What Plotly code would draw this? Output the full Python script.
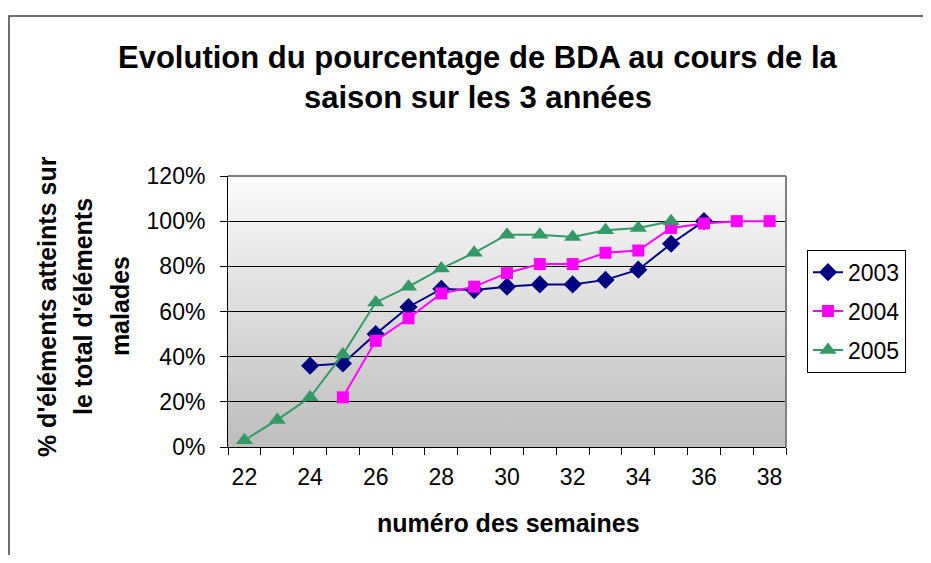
import base64
import plotly.graph_objects as go

semaines = list(range(22, 39))

pct_2003 = [None, None, 0.36, 0.37, 0.50, 0.62, 0.70, 0.695, 0.71, 0.72, 0.72, 0.74, 0.785, 0.90, 1.00, None, None]
pct_2004 = [None, None, None, 0.22, 0.47, 0.57, 0.68, 0.71, 0.77, 0.81, 0.81, 0.86, 0.87, 0.97, 0.99, 1.00, 1.00]
pct_2005 = [0.03, 0.12, 0.22, 0.41, 0.64, 0.71, 0.79, 0.86, 0.94, 0.94, 0.93, 0.96, 0.97, 1.00, None, None, None]

y_ticks = [0, 0.2, 0.4, 0.6, 0.8, 1.0, 1.2]
x_labels = list(range(22, 39, 2))

font = "Liberation Sans, Arial, sans-serif"

# fond dégradé de la zone de tracé (blanc en haut, gris en bas)
svg = ('<svg xmlns="http://www.w3.org/2000/svg" width="10" height="100" preserveAspectRatio="none">'
       '<defs><linearGradient id="g" x1="0" y1="0" x2="0" y2="1">'
       '<stop offset="0" stop-color="#fbfbfb"/><stop offset="1" stop-color="#bdbdbd"/>'
       '</linearGradient></defs><rect width="10" height="100" fill="url(#g)"/></svg>')
bg_src = "data:image/svg+xml;base64," + base64.b64encode(svg.encode()).decode()

fig = go.Figure()

fig.add_trace(go.Scatter(
    x=semaines, y=pct_2003, name="2003", mode="lines+markers", legendgroup="a",
    line=dict(color="#000080", width=2),
    marker=dict(symbol="diamond", size=14, color="#000080"),
))
fig.add_trace(go.Scatter(
    x=semaines, y=pct_2004, name="2004", mode="lines+markers", legendgroup="b",
    line=dict(color="#ff00ff", width=2),
    marker=dict(symbol="square", size=12, color="#ff00ff"),
))
fig.add_trace(go.Scatter(
    x=semaines, y=pct_2005, name="2005", mode="lines+markers", legendgroup="c",
    line=dict(color="#339966", width=2),
    marker=dict(symbol="triangle-up", size=15, color="#339966"),
))

# la page ajoute 8px de marge autour du graphique : on compense ici
fig.update_layout(
    width=915,
    height=547,
    margin=dict(l=220, r=137, t=168, b=108),
    paper_bgcolor="white",
    plot_bgcolor="rgba(0,0,0,0)",
    font=dict(family=font, color="black", size=23),
    showlegend=True,
    legend=dict(
        x=1.0376, y=0.728, xanchor="left", yanchor="top",
        bordercolor="black", borderwidth=1, bgcolor="white",
        font=dict(size=23), tracegroupgap=6,
    ),
    images=[dict(
        source=bg_src, xref="x", yref="y", x=21.5, y=1.2,
        sizex=17, sizey=1.2, sizing="stretch", layer="below",
    )],
)

fig.update_xaxes(
    range=[21.5, 38.5],
    tickmode="array", tickvals=x_labels, ticktext=[str(v) for v in x_labels],
    ticks="", ticklabelstandoff=9,
    minor=dict(tickmode="linear", tick0=21.5, dtick=1, ticks="outside",
               ticklen=7, tickcolor="black", showgrid=False),
    showgrid=False, zeroline=False,
    showline=True, linecolor="black", linewidth=1,
    tickfont=dict(size=23),
)
fig.update_yaxes(
    range=[0, 1.2],
    tickmode="array", tickvals=y_ticks, tickformat=".0%",
    ticks="outside", ticklen=7, tickcolor="black", ticklabelstandoff=10,
    showgrid=True, gridcolor="black", gridwidth=1,
    zeroline=False,
    showline=True, linecolor="black", linewidth=1,
    tickfont=dict(size=23),
)

# bordure grise de la zone de tracé et cadre du graphique
fig.add_shape(type="line", xref="paper", yref="paper", x0=0, x1=1, y0=1, y1=1,
              line=dict(color="#808080", width=2), layer="above")
fig.add_shape(type="line", xref="paper", yref="paper", x0=1, x1=1, y0=0, y1=1,
              line=dict(color="#808080", width=2), layer="above")
fig.add_shape(type="rect", xref="paper", yref="paper", x0=-0.3925, x1=1.3, y0=-0.5, y1=1.590,
              line=dict(color="#404040", width=1.5), layer="below")

# titre et titres d'axes
for txt, yy in [("Evolution du pourcentage de BDA au cours de la", 1.439),
                ("saison sur les 3 années", 1.288)]:
    fig.add_annotation(text="<b>%s</b>" % txt, xref="paper", yref="paper",
                       x=0.448, y=yy, xanchor="center", yanchor="middle",
                       showarrow=False, font=dict(size=31))

for txt, xx in [("% d'éléments atteints sur", -0.3244),
                ("le total d'éléments", -0.2599),
                ("malades", -0.1935)]:
    fig.add_annotation(text="<b>%s</b>" % txt, xref="paper", yref="paper",
                       x=xx, y=0.52, xanchor="center", yanchor="middle",
                       showarrow=False, textangle=-90, font=dict(size=25))

fig.add_annotation(text="<b>numéro des semaines</b>", xref="paper", yref="paper",
                   x=0.502, y=-0.28, xanchor="center", yanchor="middle",
                   showarrow=False, font=dict(size=25))

fig.write_html("out.html")
